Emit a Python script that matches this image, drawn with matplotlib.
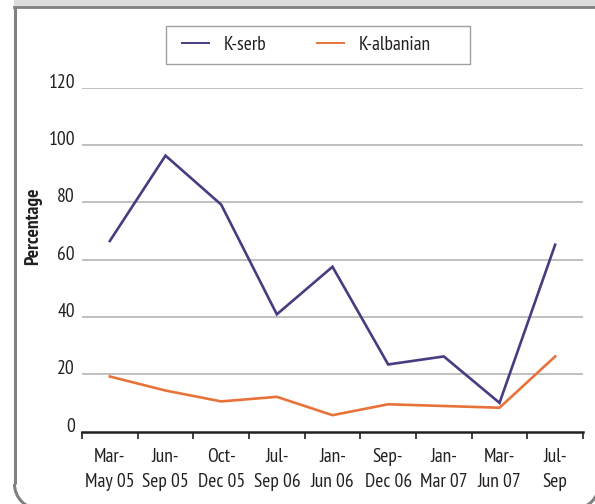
import matplotlib
matplotlib.use("Agg")
import matplotlib.pyplot as plt
from matplotlib.patches import Arc, Rectangle
from matplotlib.ticker import FixedLocator, NullFormatter, FixedFormatter

plt.rcParams['font.family'] = ['PT Sans Narrow', 'Fira Sans Condensed', 'Roboto Condensed',
                               'Asap Condensed', 'Archivo Narrow', 'Liberation Sans', 'DejaVu Sans']

categories = ["Mar-\nMay 05", "Jun-\nSep 05", "Oct-\nDec 05", "Jul-\nSep 06", "Jan-\nJun 06",
              "Sep-\nDec 06", "Jan-\nMar 07", "Mar-\nJun 07", "Jul-\nSep"]
k_serb = [66.5, 96.3, 79.2, 40.9, 57.5, 23.4, 26.2, 10.0, 65.2]
k_albanian = [19.2, 14.3, 10.5, 12.1, 5.7, 9.5, 8.9, 8.3, 26.2]
yticks = [0, 20, 40, 60, 80, 100, 120]

W, H = 595, 504
fig = plt.figure(figsize=(W / 100, H / 100), dpi=100)

# background frame (pixel coordinates, y measured upward)
bg = fig.add_axes([0, 0, 1, 1], zorder=0)
bg.set_xlim(0, W)
bg.set_ylim(0, H)
bg.axis("off")
frame_c = "#808080"
bg.add_patch(Rectangle((14, H - 7), 600, 12, facecolor="#dcdcdc", edgecolor="none"))
bg.plot([14, 620], [H - 7, H - 7], color=frame_c, linewidth=2.0)
bg.plot([14.5, 14.5], [H - 7, H - 484], color=frame_c, linewidth=2.2, solid_capstyle="butt")
bg.add_patch(Arc((39.5, H - 484), 50, 50, theta1=180, theta2=270, color=frame_c, linewidth=2.2))
bg.add_patch(Arc((574, H - 484), 50, 50, theta1=270, theta2=360, color=frame_c, linewidth=2.2))
# legend frame
bg.add_patch(Rectangle((166, H - 64.3), 304, 38.6, facecolor="white", edgecolor="#a0a0a0", linewidth=1.0))

ax = fig.add_axes([82 / W, 1 - 431.5 / H, (583 - 82) / W, (431.5 - 87.7) / H], zorder=1)
ax.patch.set_alpha(0)
x = list(range(len(categories)))
l1, = ax.plot(x, k_serb, color="#4a3b80", linewidth=1.9, label="K-serb", solid_joinstyle="miter")
l2, = ax.plot(x, k_albanian, color="#e8733a", linewidth=1.9, label="K-albanian", solid_joinstyle="miter")

ax.set_xlim(-0.5, len(categories) - 0.5)
ax.set_ylim(0, 120)
ax.set_yticks(yticks)
ax.set_yticklabels([str(v) for v in yticks])
for t in ax.get_yticklabels():
    t.set_verticalalignment("baseline")
ax.tick_params(axis="y", length=0, pad=5, labelsize=14, colors="#231f20")
for v in yticks[1:]:
    ax.axhline(v, color="#b5b5b5", linewidth=1.2, zorder=0)

ax.xaxis.set_major_locator(FixedLocator([i - 0.5 for i in range(len(categories) + 1)]))
ax.xaxis.set_major_formatter(NullFormatter())
ax.xaxis.set_minor_locator(FixedLocator(x))
ax.xaxis.set_minor_formatter(FixedFormatter(categories))
ax.tick_params(axis="x", which="major", direction="out", length=5, width=1.2, color="#231f20")
ax.tick_params(axis="x", which="minor", length=0, pad=12, labelsize=14, labelcolor="#231f20")
for t in ax.xaxis.get_minorticklabels():
    t.set_linespacing(1.5)

for s in ["left", "right", "top"]:
    ax.spines[s].set_visible(False)
ax.spines["bottom"].set_linewidth(1.8)
ax.spines["bottom"].set_color("#231f20")

fig.text(33 / W, 1 - 226 / H, "Percentage", rotation=90, ha="center", va="center",
         fontsize=14, fontweight="bold", color="#231f20")

leg = ax.legend(handles=[l1, l2], ncol=2, frameon=False, loc="center left",
                bbox_to_anchor=(182 / W, 1 - 45 / H), bbox_transform=fig.transFigure,
                fontsize=14, handlelength=1.4, handletextpad=0.75, columnspacing=2.6,
                borderpad=0, borderaxespad=0)
for t in leg.get_texts():
    t.set_color("#231f20")
for h in leg.legend_handles:
    h.set_linewidth(1.4)

fig.savefig("out.png", dpi=100)
